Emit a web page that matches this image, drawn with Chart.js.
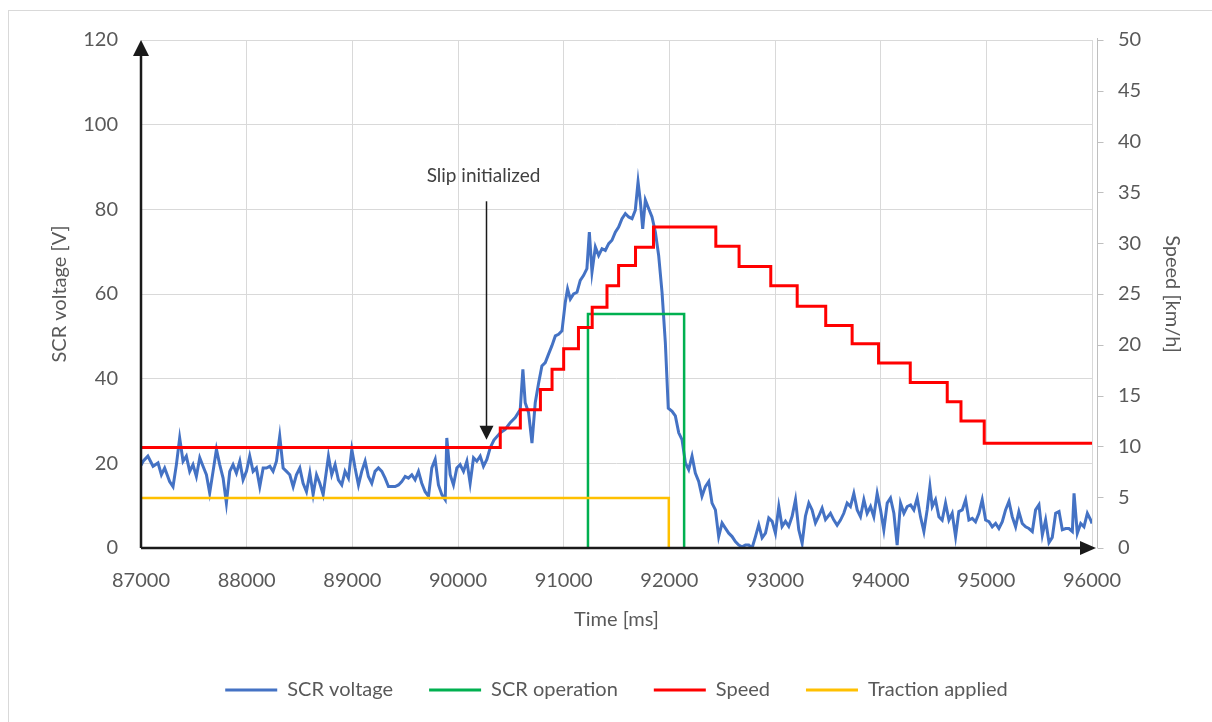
<!DOCTYPE html>
<html>
<head>
<meta charset="utf-8">
<script src="https://cdn.jsdelivr.net/npm/chart.js"></script>
<style>
  html, body { margin: 0; padding: 0; background: #fff; }
  #wrap { width: 1212px; height: 722px; }
</style>
</head>
<body>
<div id="wrap"><canvas id="chart" width="1212" height="722"></canvas></div>
<script>
// SCR voltage samples [ms] / [V]
const voltTime = [
  87000,87020,87065,87114,87161,87193,87224,87271,87303,87335,87366,87398,87429,87461,87492,87524,87556,87587,
  87619,87650,87682,87714,87745,87777,87808,87840,87871,87903,87935,87966,87998,88029,88061,88092,88124,88156,
  88187,88219,88250,88282,88313,88345,88377,88408,88440,88471,88503,88534,88566,88598,88629,88661,88692,88724,
  88774,88805,88837,88868,88900,88931,88963,88995,89026,89058,89089,89121,89152,89184,89215,89247,89279,89310,
  89342,89373,89405,89437,89468,89500,89531,89563,89594,89626,89657,89689,89721,89752,89784,89815,89847,89879,
  89894,89926,89957,89989,90020,90052,90084,90115,90147,90178,90210,90241,90273,90305,
  90340,90400,90447,90494,90542,90589,90614,90636,90668,90700,90731,90763,90794,90826,90857,90889,90921,90952,
  90984,91015,91037,91063,91094,91126,91157,91189,91220,91243,91268,91300,91331,91363,91394,91426,91457,91489,
  91520,91552,91584,91615,91647,91678,91704,91726,91748,91773,91804,91836,91868,91899,91931,91962,91990,
  92026,92057,92089,92120,92152,92183,92215,92246,92278,92309,92341,92373,92404,92436,92467,92499,92530,92562,
  92594,92625,92657,92688,92720,92752,92783,92815,92846,92878,92910,92941,92973,93004,93036,93067,93099,93130,
  93162,93194,93225,93257,93288,93320,93351,93383,93414,93446,93478,
  93525,93557,93588,93620,93651,93683,93714,93746,93778,93809,93841,93872,93904,93935,93967,93999,94030,94062,
  94093,94125,94156,94188,94220,94251,94283,94314,94346,94377,94409,94440,94466,94488,94519,94551,94582,94614,
  94646,94677,94709,94740,94772,94804,94835,94867,94898,94930,94961,94993,95025,95056,95088,95119,95151,95182,
  95214,95245,95277,95308,95340,95372,95403,95435,95466,95498,95530,95561,95593,95624,95656,95688,95719,95751,
  95782,95814,95830,95861,95893,95924,95956,95988,96000
];
const voltValue = [
  19.5,20.5,21.7,19.3,20.1,17.3,18.9,15.7,14.5,19.7,26.0,20.5,21.7,18.1,19.7,16.9,21.3,19.3,
  17.3,13.0,18.1,23.3,19.7,16.5,10.6,18.1,19.7,17.7,20.5,16.1,18.1,21.7,18.1,18.9,14.5,18.9,
  18.9,19.3,18.1,20.5,26.4,18.9,18.1,17.3,14.5,17.3,18.9,15.3,13.3,17.7,12.6,17.3,15.3,12.6,
  21.7,17.3,19.7,16.1,14.9,18.1,16.5,23.3,18.9,14.9,18.1,20.5,16.9,15.3,18.1,18.9,18.1,16.5,
  14.5,14.5,14.5,14.9,15.7,16.9,16.5,17.3,16.1,18.1,15.3,13.3,12.2,18.9,20.9,14.9,12.6,11.4,
  26.0,17.3,14.9,18.9,19.7,18.1,20.5,15.3,21.3,20.5,21.7,19.3,20.9,23.7,
  25.5,27.2,28.0,29.6,30.8,32.7,42.2,34.3,32.0,24.8,34.3,39.0,43.0,43.8,45.8,47.8,50.1,50.5,
  51.3,58.0,61.2,58.8,60.0,60.4,63.2,64.4,66.0,74.6,65.2,71.1,69.1,70.7,70.3,71.9,72.7,74.6,
  75.8,77.8,79.0,78.2,77.8,79.8,86.5,81.8,75.4,82.2,80.2,78.2,74.6,69.1,60.4,48.6,33.0,
  32.3,31.2,27.2,25.6,20.1,18.5,21.7,17.7,15.7,12.2,14.5,15.7,10.6,9.0,2.7,5.9,4.7,3.5,
  2.7,1.5,0.7,0.3,0.7,0.7,0,2.7,5.5,2.4,3.5,7.1,6.3,3.5,9.8,5.1,6.3,5.1,
  7.5,11.4,4.3,1.1,7.5,10.6,9.0,5.9,7.5,9.4,6.7,
  8.2,6.6,5.4,6.6,8.2,10.6,9.8,12.9,9.0,7.4,11.4,8.2,9.8,7.4,12.9,9.0,4.3,10.6,
  11.8,8.2,0.7,10.6,8.2,9.8,10.2,9.0,11.8,7.4,3.9,9.0,14.5,9.8,11.4,7.4,6.6,10.6,
  6.6,8.2,2.7,8.6,9.0,11.4,6.6,7.0,6.2,8.2,11.4,6.6,6.2,5.0,5.8,4.6,6.2,9.0,
  11.0,7.4,5.0,8.6,5.8,5.0,4.6,3.9,9.0,10.2,3.1,6.6,1.3,2.5,8.2,8.6,4.3,4.6,
  4.6,3.9,12.9,3.5,5.8,5.0,8.2,6.6,5.8
];

// speed [km/h]: each value holds from its time until the next time
const speedTime = [87000,90400,90590,90780,90890,91000,91140,91270,91410,91520,91680,91850,
  92440,92660,92960,93210,93480,93730,93980,94280,94630,94760,94980,96000];
const speedValue = [9.9,11.8,13.6,15.6,17.6,19.6,21.7,23.7,25.8,27.8,29.6,31.6,
  29.7,27.7,25.8,23.8,21.9,20.1,18.2,16.3,14.4,12.5,10.3,10.3];

// SCR operation pulse (corner points)
const scrOpTime = [91230,91230,92140,92140];
const scrOpValue = [0,55.3,55.3,0];

// traction applied (corner points)
const tractionTime = [87000,91995,91995];
const tractionValue = [11.8,11.8,0];

const seriesNames = ['SCR voltage','SCR operation','Speed','Traction applied'];
const seriesColors = ['#4472C4','#00B050','#FF0000','#FFC000'];

const xTicks = { min: 87000, max: 96000, step: 1000 };
const voltTicks = { min: 0, max: 120, step: 20 };
const speedTicks = { min: 0, max: 50, step: 5 };

// annotation
const slipLabel = 'Slip initialized';
const slipTime = 90267;
const slipTextV = 87.8;
const slipTopV = 81.9;
const slipTipV = 25.6;

const pairs = (xs, ys) => xs.map((x, i) => ({ x: x, y: ys[i] }));

const FONT = 'Lato, "Open Sans", sans-serif';
const GREY = '#595959';

const decorations = {
  id: 'decorations',
  beforeDraw(chart) {
    const ctx = chart.ctx;
    ctx.save();
    ctx.fillStyle = '#fff';
    ctx.fillRect(0, 0, chart.width, chart.height);
    ctx.strokeStyle = '#d9d9d9';
    ctx.lineWidth = 1;
    ctx.strokeRect(8.5, 10.5, chart.width + 20, chart.height + 20);
    ctx.restore();
  },
  afterDatasetsDraw(chart) {
    const ctx = chart.ctx;
    const a = chart.chartArea;
    const sx = chart.scales.x, sy = chart.scales.y, s1 = chart.scales.y1;
    ctx.save();

    // right (speed) axis line with outward ticks
    const rx = Math.round(a.right) + 5.5;
    ctx.strokeStyle = '#bfbfbf';
    ctx.lineWidth = 1;
    ctx.beginPath();
    ctx.moveTo(rx, a.top - 2);
    ctx.lineTo(rx, a.bottom);
    s1.ticks.forEach(t => {
      const py = Math.round(s1.getPixelForValue(t.value)) + 0.5;
      ctx.moveTo(rx, py);
      ctx.lineTo(rx + 6, py);
    });
    ctx.stroke();

    // black axes with arrowheads
    ctx.strokeStyle = '#1a1a1a';
    ctx.fillStyle = '#1a1a1a';
    ctx.lineWidth = 2.5;
    ctx.beginPath();
    ctx.moveTo(a.left, a.bottom);
    ctx.lineTo(a.left, a.top + 12);
    ctx.moveTo(a.left, a.bottom);
    ctx.lineTo(a.right - 8, a.bottom);
    ctx.stroke();
    ctx.beginPath();
    ctx.moveTo(a.left, a.top);
    ctx.lineTo(a.left - 8, a.top + 16);
    ctx.lineTo(a.left + 8, a.top + 16);
    ctx.closePath();
    ctx.fill();
    ctx.beginPath();
    ctx.moveTo(a.right + 4, a.bottom);
    ctx.lineTo(a.right - 12, a.bottom - 7);
    ctx.lineTo(a.right - 12, a.bottom + 7);
    ctx.closePath();
    ctx.fill();

    // slip annotation
    const ax = Math.round(sx.getPixelForValue(slipTime)) + 0.5;
    const yTop = sy.getPixelForValue(slipTopV);
    const yTip = sy.getPixelForValue(slipTipV);
    ctx.lineWidth = 1.5;
    ctx.beginPath();
    ctx.moveTo(ax, yTop);
    ctx.lineTo(ax, yTip - 12);
    ctx.stroke();
    ctx.beginPath();
    ctx.moveTo(ax, yTip);
    ctx.lineTo(ax - 7, yTip - 14);
    ctx.lineTo(ax + 7, yTip - 14);
    ctx.closePath();
    ctx.fill();
    ctx.fillStyle = '#404040';
    ctx.font = '19px ' + FONT;
    ctx.textAlign = 'center';
    ctx.textBaseline = 'middle';
    ctx.fillText(slipLabel, ax - 3, sy.getPixelForValue(slipTextV));

    ctx.restore();
  }
};

function lineSet(i, xs, ys, axis, order, stepped, width) {
  return {
    label: seriesNames[i],
    data: pairs(xs, ys),
    yAxisID: axis,
    borderColor: seriesColors[i],
    backgroundColor: seriesColors[i],
    borderWidth: width,
    pointRadius: 0,
    tension: 0,
    stepped: stepped,
    order: order
  };
}

new Chart(document.getElementById('chart'), {
  type: 'line',
  data: {
    datasets: [
      lineSet(0, voltTime, voltValue, 'y', 4, false, 3),
      lineSet(1, scrOpTime, scrOpValue, 'y', 3, false, 2.5),
      lineSet(2, speedTime, speedValue, 'y1', 2, true, 3),
      lineSet(3, tractionTime, tractionValue, 'y', 1, false, 2.5)
    ]
  },
  options: {
    responsive: false,
    animation: false,
    devicePixelRatio: 1,
    layout: { padding: { top: 40, bottom: 12, left: 0, right: 0 } },
    plugins: {
      tooltip: { enabled: false },
      legend: {
        position: 'bottom',
        fullSize: false,
        labels: {
          boxWidth: 52,
          boxHeight: 3,
          padding: 36,
          color: GREY,
          font: { family: FONT, size: 20 },
          sort: (a, b) => a.datasetIndex - b.datasetIndex,
          generateLabels(chart) {
            return Chart.defaults.plugins.legend.labels.generateLabels(chart).map(it => {
              it.fillStyle = it.strokeStyle;
              it.lineWidth = 0;
              return it;
            });
          }
        }
      }
    },
    scales: {
      x: {
        type: 'linear',
        position: 'bottom',
        min: xTicks.min,
        max: xTicks.max,
        afterFit(s) { s.height = 96; },
        ticks: {
          stepSize: xTicks.step,
          autoSkip: false,
          maxRotation: 0,
          padding: 21,
          color: GREY,
          font: { family: FONT, size: 20 },
          callback: v => String(v)
        },
        grid: { color: '#d9d9d9', lineWidth: 1, drawTicks: false },
        border: { display: false },
        title: {
          display: true,
          text: 'Time [ms]',
          color: GREY,
          font: { family: FONT, size: 20 },
          padding: { top: 0, bottom: 12 }
        }
      },
      y: {
        position: 'left',
        min: voltTicks.min,
        max: voltTicks.max,
        afterFit(s) { s.width = 141; },
        ticks: {
          stepSize: voltTicks.step,
          padding: 23,
          color: GREY,
          font: { family: FONT, size: 20 }
        },
        grid: { color: '#d9d9d9', lineWidth: 1, drawTicks: false },
        border: { display: false },
        title: {
          display: true,
          text: 'SCR voltage [V]',
          color: GREY,
          font: { family: FONT, size: 20 },
          padding: { top: 48, bottom: 0 }
        }
      },
      y1: {
        position: 'right',
        min: speedTicks.min,
        max: speedTicks.max,
        afterFit(s) { s.width = 120; },
        ticks: {
          stepSize: speedTicks.step,
          padding: 26,
          color: GREY,
          font: { family: FONT, size: 20 }
        },
        grid: { display: false, drawTicks: false },
        border: { display: false },
        title: {
          display: true,
          text: 'Speed [km/h]',
          color: GREY,
          font: { family: FONT, size: 20 },
          padding: { top: 28, bottom: 0 }
        }
      }
    }
  },
  plugins: [decorations]
});
</script>
</body>
</html>
